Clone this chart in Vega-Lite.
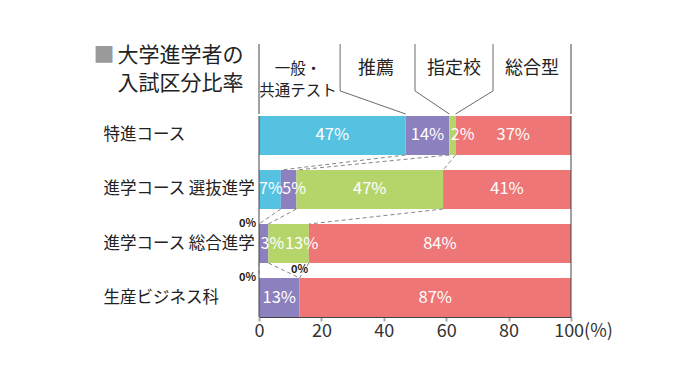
{
  "$schema": "https://vega.github.io/schema/vega-lite/v6.json",
  "padding": {"left": 93, "top": 43, "right": 5, "bottom": 5},
  "spacing": 0,
  "config": {
    "font": "Noto Sans CJK JP",
    "view": {"stroke": null},
    "text": {"font": "Noto Sans CJK JP"},
    "axis": {"labelFont": "Noto Sans CJK JP", "titleFont": "Noto Sans CJK JP"}
  },
  "datasets": {
    "shares": [
      {"n": 1, "course": "特進コース", "k": 1, "cat": "一般・共通テスト", "share": 0.47},
      {"n": 1, "course": "特進コース", "k": 2, "cat": "推薦", "share": 0.14},
      {"n": 1, "course": "特進コース", "k": 3, "cat": "指定校", "share": 0.02},
      {"n": 1, "course": "特進コース", "k": 4, "cat": "総合型", "share": 0.37},
      {"n": 2, "course": "進学コース 選抜進学", "k": 1, "cat": "一般・共通テスト", "share": 0.07},
      {"n": 2, "course": "進学コース 選抜進学", "k": 2, "cat": "推薦", "share": 0.05},
      {"n": 2, "course": "進学コース 選抜進学", "k": 3, "cat": "指定校", "share": 0.47},
      {"n": 2, "course": "進学コース 選抜進学", "k": 4, "cat": "総合型", "share": 0.41},
      {"n": 3, "course": "進学コース 総合進学", "k": 1, "cat": "一般・共通テスト", "share": 0},
      {"n": 3, "course": "進学コース 総合進学", "k": 2, "cat": "推薦", "share": 0.03},
      {"n": 3, "course": "進学コース 総合進学", "k": 3, "cat": "指定校", "share": 0.13},
      {"n": 3, "course": "進学コース 総合進学", "k": 4, "cat": "総合型", "share": 0.84},
      {"n": 4, "course": "生産ビジネス科", "k": 1, "cat": "一般・共通テスト", "share": 0},
      {"n": 4, "course": "生産ビジネス科", "k": 2, "cat": "推薦", "share": 0.13},
      {"n": 4, "course": "生産ビジネス科", "k": 3, "cat": "指定校", "share": 0},
      {"n": 4, "course": "生産ビジネス科", "k": 4, "cat": "総合型", "share": 0.87}
    ],
    "header": [
      {"k": 1, "label": "一般・共通テスト", "text": "一般・\n共通テスト", "edge": 0.26, "target": 0.47},
      {"k": 2, "label": "推薦", "text": "推薦", "edge": 0.5, "target": 0.61},
      {"k": 3, "label": "指定校", "text": "指定校", "edge": 0.75, "target": 0.63},
      {"k": 4, "label": "総合型", "text": "総合型"}
    ]
  },
  "vconcat": [
    {
      "width": 312,
      "height": 70,
      "data": {"name": "header"},
      "resolve": {"scale": {"x": "independent"}},
      "layer": [
        {
          "data": {"values": [{}]},
          "mark": {"type": "rule", "color": "#444", "strokeWidth": 1},
          "encoding": {
            "x": {"datum": 0, "type": "quantitative", "scale": {"domain": [0, 1]}, "axis": null},
            "y": {
              "datum": 1, "type": "quantitative", "scale": {"domain": [0, 1]},
              "axis": {
                "values": [1],
                "labelExpr": "['大学進学者の', '入試区分比率']",
                "labelAlign": "right", "labelBaseline": "top",
                "labelFontSize": 21, "labelLineHeight": 28, "labelColor": "#222",
                "labelPadding": 16, "domain": false, "ticks": false, "tickSize": 0, "grid": false,
                "title": "■", "titleAngle": 0, "titleColor": "#9a9a9a", "titleFontSize": 21,
                "titleFontWeight": "normal", "titleAnchor": "end", "titleBaseline": "top",
                "titleAlign": "right", "titlePadding": 3
              }
            },
            "y2": {"datum": 0}
          }
        },
        {
          "data": {"values": [{}]},
          "mark": {"type": "rule", "color": "#444", "strokeWidth": 1},
          "encoding": {
            "x": {"datum": 1, "type": "quantitative", "scale": {"domain": [0, 1]}, "axis": null},
            "y": {"datum": 1, "type": "quantitative"},
            "y2": {"datum": 0}
          }
        },
        {
          "transform": [{"filter": "datum.k < 4"}],
          "mark": {"type": "rule", "color": "#444", "strokeWidth": 0.8},
          "encoding": {
            "x": {"field": "edge", "type": "quantitative", "scale": {"domain": [0, 1]}, "axis": null},
            "y": {"datum": 1, "type": "quantitative"},
            "y2": {"datum": 0.33}
          }
        },
        {
          "transform": [{"filter": "datum.k < 4"}],
          "mark": {"type": "rule", "color": "#444", "strokeWidth": 0.8},
          "encoding": {
            "x": {"field": "edge", "type": "quantitative", "scale": {"domain": [0, 1]}, "axis": null},
            "x2": {"field": "target"},
            "y": {"datum": 0.33, "type": "quantitative"},
            "y2": {"datum": 0}
          }
        },
        {
          "mark": {"type": "text", "color": "#222", "lineBreak": "\n", "lineHeight": 22, "baseline": "middle", "align": "center"},
          "encoding": {
            "x": {"field": "label", "type": "nominal", "sort": ["一般・共通テスト", "推薦", "指定校", "総合型"], "scale": {"paddingInner": 0, "paddingOuter": 0}, "axis": null},
            "y": {"datum": 0.65, "type": "quantitative"},
            "text": {"field": "text"},
            "size": {"condition": {"test": "datum.k == 1", "value": 15.5}, "value": 18}
          }
        }
      ]
    },
    {
      "width": 312,
      "height": 201,
      "data": {"name": "shares"},
      "layer": [
        {
          "mark": {"type": "bar"},
          "encoding": {
            "y": {
              "field": "course", "type": "nominal",
              "scale": {"domain": ["特進コース", "進学コース 選抜進学", "進学コース 総合進学", "生産ビジネス科"], "paddingInner": 0.2778, "paddingOuter": 0},
              "axis": {"title": null, "domain": false, "ticks": false, "tickSize": 0, "labelAlign": "left", "labelPadding": 156, "labelFontSize": 16.5, "labelColor": "#222", "labelLimit": 220}
            },
            "x": {
              "field": "share", "type": "quantitative", "stack": "zero",
              "scale": {"domain": [0, 1], "nice": false},
              "axis": {
                "values": [0, 0.2, 0.4, 0.6, 0.8, 1],
                "labelExpr": "datum.value == 1 ? '100(%)' : format(datum.value * 100, 'd')",
                "labelFlush": false, "labelFontSize": 18, "labelColor": "#333", "labelPadding": 1,
                "labelOffset": {"condition": {"test": "datum.value == 1", "value": 12}, "value": 0},
                "tickSize": 4, "tickWidth": 2, "tickColor": "#aaa", "domainColor": "#444", "domainWidth": 1,
                "grid": false, "title": null
              }
            },
            "color": {
              "field": "cat", "type": "nominal",
              "scale": {"domain": ["一般・共通テスト", "推薦", "指定校", "総合型"], "range": ["#56C2E2", "#8D80BE", "#B5D56A", "#EE7676"]},
              "legend": null
            },
            "order": {"field": "k"}
          }
        },
        {
          "data": {"values": [{}]},
          "mark": {"type": "rule", "color": "#444", "strokeWidth": 1},
          "encoding": {"x": {"datum": 0, "type": "quantitative"}}
        },
        {
          "data": {"values": [{}]},
          "mark": {"type": "rule", "color": "#444", "strokeWidth": 1},
          "encoding": {"x": {"datum": 1, "type": "quantitative"}}
        },
        {
          "transform": [
            {"stack": "share", "groupby": ["course"], "sort": [{"field": "k", "order": "ascending"}], "as": ["c0", "c1"]},
            {"filter": "datum.k < 4"},
            {"window": [{"op": "lead", "field": "c1", "as": "c1n"}, {"op": "lead", "field": "course", "as": "coursen"}], "groupby": ["k"], "sort": [{"field": "n", "order": "ascending"}]},
            {"filter": "datum.coursen != null"}
          ],
          "mark": {"type": "rule", "strokeDash": [4, 3], "color": "#777", "strokeWidth": 0.9, "yOffset": 19.5, "y2Offset": -19.5},
          "encoding": {
            "x": {"field": "c1", "type": "quantitative"},
            "x2": {"field": "c1n"},
            "y": {"field": "course", "type": "nominal"},
            "y2": {"field": "coursen"}
          }
        },
        {
          "mark": {"type": "text", "color": "white", "fontSize": 16.5, "align": "center", "baseline": "middle",
                   "dx": {"expr": "datum.course == '進学コース 総合進学' && datum.cat == '指定校' ? 13 : 0"}},
          "encoding": {
            "y": {"field": "course", "type": "nominal"},
            "x": {"field": "share", "type": "quantitative", "stack": "zero", "bandPosition": 0.5},
            "detail": {"field": "cat"},
            "order": {"field": "k"},
            "text": {"condition": {"test": "datum.share >= 0.1", "field": "share", "type": "quantitative", "format": ".0%"}, "value": ""}
          }
        },
        {
          "transform": [
            {"stack": "share", "groupby": ["course"], "sort": [{"field": "k", "order": "ascending"}], "as": ["c0", "c1"]},
            {"filter": "datum.share > 0 && datum.share < 0.1"}
          ],
          "mark": {"type": "text", "color": "white", "fontSize": 16, "align": "left", "baseline": "middle",
                   "dx": {"expr": "datum.k == 1 ? 0 : 1.5"}},
          "encoding": {
            "y": {"field": "course", "type": "nominal"},
            "x": {"field": "c0", "type": "quantitative"},
            "text": {"field": "share", "type": "quantitative", "format": ".0%"}
          }
        },
        {
          "transform": [
            {"stack": "share", "groupby": ["course"], "sort": [{"field": "k", "order": "ascending"}], "as": ["c0", "c1"]},
            {"filter": "datum.share == 0 && datum.k == 1"}
          ],
          "mark": {"type": "text", "color": "#222", "fontSize": 11, "fontWeight": "bold", "align": "right", "baseline": "middle", "dx": -3},
          "encoding": {
            "y": {"field": "course", "type": "nominal", "bandPosition": 0},
            "x": {"field": "c0", "type": "quantitative"},
            "text": {"field": "share", "type": "quantitative", "format": ".0%"}
          }
        },
        {
          "transform": [
            {"stack": "share", "groupby": ["course"], "sort": [{"field": "k", "order": "ascending"}], "as": ["c0", "c1"]},
            {"filter": "datum.share == 0 && datum.k > 1"}
          ],
          "mark": {"type": "text", "color": "#222", "fontSize": 11, "fontWeight": "bold", "align": "center", "baseline": "middle", "dy": -8},
          "encoding": {
            "y": {"field": "course", "type": "nominal", "bandPosition": 0},
            "x": {"field": "c0", "type": "quantitative"},
            "text": {"field": "share", "type": "quantitative", "format": ".0%"}
          }
        }
      ]
    }
  ]
}
